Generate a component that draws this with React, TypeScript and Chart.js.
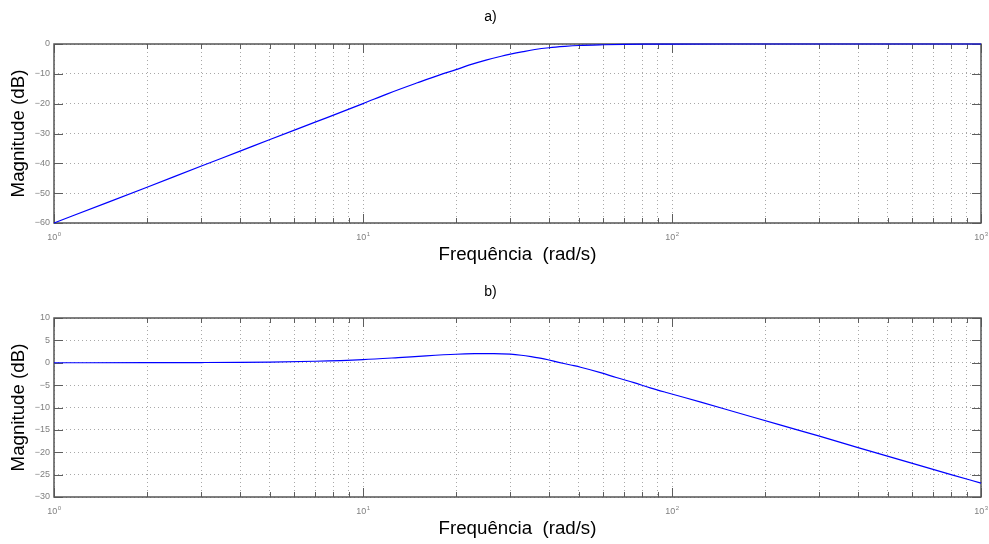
import React, { useEffect, useRef } from 'react';
import { Chart, registerables } from 'chart.js';

Chart.register(...registerables);

const FONT = '"Liberation Sans", Arial, Helvetica, sans-serif';

// ---- Data ----
const freqA = [1, 1.5, 2, 3, 4, 5, 7, 10, 12, 15, 18, 20, 22, 25, 28, 30, 33, 36, 40, 45, 50, 60, 70, 85, 100, 150, 200, 300, 500, 1000];
const magA = [-60, -53.0, -48.0, -40.9, -35.9, -32.0, -26.2, -20.0, -16.7, -13.0, -10.1, -8.6, -7.1, -5.4, -4.1, -3.4, -2.55, -1.85, -1.25, -0.8, -0.5, -0.25, -0.12, -0.05, -0.02, 0, 0, 0, 0, 0];

const freqB = [1, 2, 3, 4, 5, 7, 10, 13, 16, 20, 23, 26.5, 30, 32.5, 35, 38.5, 43, 47, 50.6, 58.7, 66, 75.3, 85, 96.5, 124, 160, 225, 300, 400, 600, 800, 1000];
const magB = [0, 0.02, 0.05, 0.09, 0.15, 0.33, 0.7, 1.15, 1.55, 1.9, 2.02, 2.05, 1.92, 1.68, 1.35, 0.85, 0.1, -0.5, -1.0, -2.2, -3.3, -4.45, -5.6, -6.7, -8.8, -11.0, -13.95, -16.4, -18.95, -22.5, -25.0, -26.9];

const yTicksA = [0, -10, -20, -30, -40, -50, -60];
const yTicksB = [10, 5, 0, -5, -10, -15, -20, -25, -30];
const xDecades = [1, 10, 100, 1000];
const xMinorSteps = [2, 3, 4, 5, 6, 7, 8, 9];

const titleA = 'a)';
const titleB = 'b)';
const xLabel = 'Frequência  (rad/s)';
const yLabel = 'Magnitude (dB)';

// ---- Layout ----
const W = 989;
const PLOT_LEFT = 54;
const PLOT_RIGHT = 981;
const PLOT_TOP = 44;
const PLOT_BOTTOM = 223;
const AXIS_TITLE_SIZE = 18.7;

function buildXTicks(): number[] {
  const out: number[] = [];
  xDecades.forEach((d, i) => {
    out.push(d);
    if (i < xDecades.length - 1) xMinorSteps.forEach((m) => out.push(d * m));
  });
  return out;
}
const xTickValues = buildXTicks();

const matlabAxes = {
  id: 'matlabAxes',
  beforeDatasetsDraw(chart: any) {
    const { ctx, chartArea } = chart;
    const { left, right, top, bottom } = chartArea;
    const x = chart.scales.x;
    const y = chart.scales.y;
    ctx.save();
    ctx.strokeStyle = '#5e5e5e';
    ctx.lineWidth = 1;
    ctx.setLineDash([]);
    const seg = (x1: number, y1: number, x2: number, y2: number) => {
      ctx.beginPath();
      ctx.moveTo(x1, y1);
      ctx.lineTo(x2, y2);
      ctx.stroke();
    };
    x.ticks.forEach((t: any) => {
      const px = Math.round(x.getPixelForValue(t.value)) + 0.5;
      const major = xDecades.includes(t.value);
      const len = major ? 9 : 5;
      seg(px, bottom, px, bottom - len);
      seg(px, top, px, top + len);
    });
    y.ticks.forEach((t: any) => {
      const py = Math.round(y.getPixelForValue(t.value)) + 0.5;
      seg(left, py, left + 9, py);
      seg(right, py, right - 9, py);
    });
    ctx.lineWidth = 1.5;
    ctx.strokeStyle = '#555555';
    ctx.strokeRect(left, top, right - left, bottom - top);
    ctx.restore();
  },
  afterDraw(chart: any) {
    const { ctx, chartArea } = chart;
    const x = chart.scales.x;
    ctx.save();
    ctx.fillStyle = '#808080';
    ctx.textBaseline = 'alphabetic';
    ctx.textAlign = 'left';
    xDecades.forEach((d) => {
      const px = x.getPixelForValue(d);
      const exp = String(Math.round(Math.log10(d)));
      ctx.font = `9px ${FONT}`;
      const w1 = ctx.measureText('10').width;
      ctx.font = `6px ${FONT}`;
      const w2 = ctx.measureText(exp).width;
      const start = px - (w1 + w2) / 2;
      ctx.font = `9px ${FONT}`;
      ctx.fillText('10', start, chartArea.bottom + 17);
      ctx.font = `6px ${FONT}`;
      ctx.fillText(exp, start + w1 + 0.3, chartArea.bottom + 13);
    });
    ctx.restore();
  },
};

type PanelProps = {
  title: string;
  freq: number[];
  mag: number[];
  yTicks: number[];
  height: number;
  top: number;
  titleCenter: number;
};

function Panel({ title, freq, mag, yTicks, height, top, titleCenter }: PanelProps) {
  const ref = useRef<HTMLCanvasElement | null>(null);
  useEffect(() => {
    if (!ref.current) return;
    const yMin = Math.min(...yTicks);
    const yMax = Math.max(...yTicks);
    const titleLH = 14 * 1.2;
    const titlePadTop = titleCenter - titleLH / 2;
    const titlePadBottom = PLOT_TOP - titlePadTop - titleLH;
    const axisLH = AXIS_TITLE_SIZE * 1.2;
    const xTitleMid = 255.2;
    const gridOpts = { color: '#a8a8a8', lineWidth: 1, drawTicks: false };
    const borderOpts = { display: false, dash: [1, 3] };
    const chart = new Chart(ref.current, {
      type: 'line',
      data: {
        datasets: [
          {
            data: freq.map((f, i) => ({ x: f, y: mag[i] })),
            borderColor: '#0000ff',
            borderWidth: 1.2,
            pointRadius: 0,
            cubicInterpolationMode: 'monotone',
            fill: false,
            clip: false,
          } as any,
        ],
      },
      options: {
        animation: false,
        responsive: false,
        devicePixelRatio: 1,
        events: [],
        layout: { padding: { left: 0, right: W - PLOT_RIGHT, top: 0, bottom: 0 } },
        plugins: {
          legend: { display: false },
          tooltip: { enabled: false },
          title: {
            display: true,
            text: title,
            color: '#000000',
            font: { family: FONT, size: 14, weight: 'normal' as any },
            padding: { top: titlePadTop, bottom: titlePadBottom },
          },
        },
        scales: {
          x: {
            type: 'logarithmic',
            min: 1,
            max: 1000,
            afterBuildTicks: (s: any) => {
              s.ticks = xTickValues.map((v) => ({ value: v }));
            },
            afterFit: (s: any) => {
              s.height = height - PLOT_BOTTOM;
            },
            ticks: { display: false },
            grid: gridOpts,
            border: borderOpts,
            title: {
              display: true,
              text: xLabel,
              color: '#000000',
              font: { family: FONT, size: AXIS_TITLE_SIZE },
              padding: { top: 0, bottom: height - xTitleMid - axisLH / 2 },
            },
          },
          y: {
            type: 'linear',
            min: yMin,
            max: yMax,
            afterBuildTicks: (s: any) => {
              s.ticks = [...yTicks].sort((a, b) => a - b).map((v) => ({ value: v }));
            },
            afterFit: (s: any) => {
              s.width = PLOT_LEFT;
            },
            ticks: {
              font: { family: FONT, size: 9 },
              color: '#808080',
              padding: 4,
              callback: (v: any) => (Number(v) < 0 ? '\u2212' + Math.abs(Number(v)) : String(v)),
            },
            grid: gridOpts,
            border: borderOpts,
            title: {
              display: true,
              text: yLabel,
              color: '#000000',
              font: { family: FONT, size: AXIS_TITLE_SIZE },
              padding: { top: 7.6, bottom: 0 },
            },
          },
        },
      } as any,
      plugins: [matlabAxes],
    });
    return () => chart.destroy();
  }, []);
  return (
    <canvas
      ref={ref}
      width={W}
      height={height}
      style={{ position: 'absolute', left: 0, top, width: W, height, display: 'block' }}
    />
  );
}

export default function App() {
  return (
    <div style={{ position: 'absolute', left: 0, top: 0, width: W, height: 544, background: '#ffffff', overflow: 'hidden' }}>
      <Panel title={titleA} freq={freqA} mag={magA} yTicks={yTicksA} height={272} top={0} titleCenter={17.5} />
      <Panel title={titleB} freq={freqB} mag={magB} yTicks={yTicksB} height={270} top={274} titleCenter={18.5} />
    </div>
  );
}
